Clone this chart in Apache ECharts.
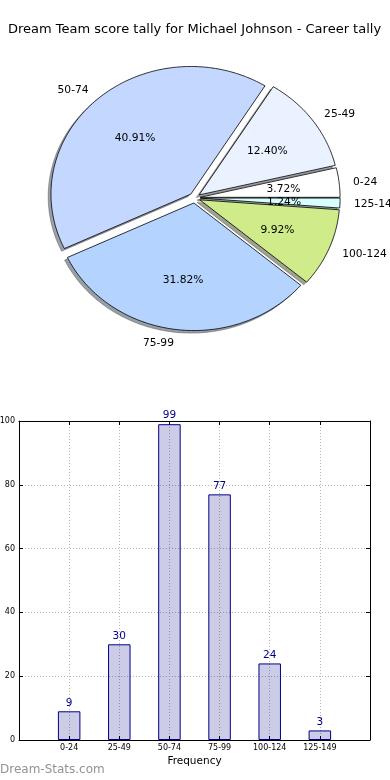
<!DOCTYPE html>
<html>
<head>
<meta charset="utf-8">
<script src="https://cdn.jsdelivr.net/npm/echarts@6/dist/echarts.min.js"></script>
<style>
html,body{margin:0;padding:0;background:#fff;}
#chart{width:390px;height:780px;}
</style>
</head>
<body>
<div id="chart"></div>
<script>
// ---- data ----
const categories = ['0-24', '25-49', '50-74', '75-99', '100-124', '125-149'];
const tallies = [9, 30, 99, 77, 24, 3];
const pieColors = ['#ffffff', '#eaf2ff', '#c4d8ff', '#b4d4ff', '#cfeb8a', '#d8ffff'];
const yTicks = [0, 20, 40, 60, 80, 100];
const titleText = 'Dream Team score tally for Michael Johnson - Career tally';

// ---- layout ----
const FONT = 'DejaVu Sans';
const PIE = { cx: 194.6, cy: 197.9, rx: 139.9, ry: 127.6, explode: 0.04, shadow: 0.02 };

function shadowColor(hex) {
  const n = parseInt(hex.slice(1), 16);
  const r = Math.round(0.3 * ((n >> 16) & 255));
  const g = Math.round(0.3 * ((n >> 8) & 255));
  const b = Math.round(0.3 * (n & 255));
  return 'rgba(' + r + ',' + g + ',' + b + ',0.5)';
}

const total = tallies.reduce((a, b) => a + b, 0);

function renderPie(params, api) {
  const i = params.dataIndex;
  const v = api.value(0);
  let start = 0;
  for (let k = 0; k < i; k++) start += tallies[k];
  const t1 = start / total * 2 * Math.PI;
  const t2 = (start + v) / total * 2 * Math.PI;
  const tm = (t1 + t2) / 2;
  const ox = PIE.cx + PIE.explode * PIE.rx * Math.cos(tm);
  const oy = PIE.cy - PIE.explode * PIE.ry * Math.sin(tm);
  const pts = [[ox, oy]];
  const n = Math.max(2, Math.ceil((t2 - t1) / (Math.PI / 180)));
  for (let j = 0; j <= n; j++) {
    const t = t1 + (t2 - t1) * j / n;
    pts.push([ox + PIE.rx * Math.cos(t), oy - PIE.ry * Math.sin(t)]);
  }
  const sdx = -PIE.shadow * PIE.rx, sdy = PIE.shadow * PIE.ry;
  const spts = pts.map(p => [p[0] + sdx, p[1] + sdy]);
  const c = Math.cos(tm), s = Math.sin(tm);
  const pct = (v / total * 100).toFixed(2) + '%';
  return {
    type: 'group',
    children: [
      { type: 'polygon', z2: 1, shape: { points: spts },
        style: { fill: shadowColor(pieColors[i]), stroke: shadowColor(pieColors[i]), lineWidth: 0.8 } },
      { type: 'polygon', z2: 10, shape: { points: pts },
        style: { fill: pieColors[i], stroke: '#000', lineWidth: 0.8 } },
      { type: 'text', z2: 100,
        style: { text: pct, x: ox + 0.6 * PIE.rx * c, y: oy - 0.6 * PIE.ry * s + 1,
          align: 'center', verticalAlign: 'middle', fill: '#000', font: '10.7px "' + FONT + '"' } },
      { type: 'text', z2: 100,
        style: { text: categories[i], x: ox + 1.1 * PIE.rx * c, y: oy - 1.1 * PIE.ry * s + 1,
          align: c > 0 ? 'left' : 'right', verticalAlign: 'middle', fill: '#000', font: '10.7px "' + FONT + '"' } }
    ]
  };
}

const chart = echarts.init(document.getElementById('chart'), null, { renderer: 'canvas' });

const gridLine = { show: true, lineStyle: { color: '#b4b4b4', type: [1, 2], width: 1 } };
const tickStyle = { show: true, inside: true, length: 4, lineStyle: { color: '#000', width: 1 } };
const axisLine = { show: true, onZero: false, lineStyle: { color: '#000', width: 1 } };

const option = {
  animation: false,
  backgroundColor: '#fff',
  textStyle: { fontFamily: FONT },
  graphic: [
    { type: 'text', style: { text: titleText, x: 194.5, y: 30, align: 'center', verticalAlign: 'middle',
      fill: '#000', font: '13px "' + FONT + '"' } },
    { type: 'text', style: { text: 'Dream-Stats.com', x: 0, y: 770, align: 'left', verticalAlign: 'middle',
      fill: '#939393', font: '12px "' + FONT + '"' } }
  ],
  grid: { left: 19, right: 20, top: 421, bottom: 40, containLabel: false, outerBoundsMode: 'none' },
  xAxis: [
    { type: 'value', min: -1, max: 6, interval: 1, position: 'bottom',
      axisLine: axisLine, axisTick: tickStyle, splitLine: gridLine,
      axisLabel: { show: true, fontSize: 8, color: '#000', margin: 4, fontFamily: FONT,
        formatter: v => categories[v] || '' },
      name: 'Frequency', nameLocation: 'middle', nameGap: 16,
      nameTextStyle: { fontSize: 10.5, color: '#000', fontFamily: FONT } },
    { type: 'value', min: -1, max: 6, interval: 1, position: 'top',
      axisLine: axisLine, axisTick: tickStyle, splitLine: { show: false }, axisLabel: { show: false } }
  ],
  yAxis: [
    { type: 'value', min: yTicks[0], max: yTicks[yTicks.length - 1], interval: 20, position: 'left',
      axisLine: axisLine, axisTick: tickStyle, splitLine: gridLine,
      axisLabel: { show: true, fontSize: 8, color: '#000', margin: 4, fontFamily: FONT } },
    { type: 'value', min: yTicks[0], max: yTicks[yTicks.length - 1], interval: 20, position: 'right',
      axisLine: axisLine, axisTick: tickStyle, splitLine: { show: false }, axisLabel: { show: false } }
  ],
  series: [
    {
      type: 'custom', coordinateSystem: 'none', silent: true,
      renderItem: renderPie,
      data: tallies.map((v, i) => ({ name: categories[i], value: v }))
    },
    {
      type: 'bar', xAxisIndex: 0, yAxisIndex: 0, barWidth: 22.5,
      data: tallies.map((v, i) => [i, v]),
      itemStyle: { color: 'rgba(0,0,128,0.2)', borderColor: '#00008b', borderWidth: 1 },
      label: { show: true, position: 'top', distance: 3, color: '#00008b', fontSize: 10.5, fontFamily: FONT,
        formatter: p => String(p.value[1]) }
    }
  ]
};
chart.setOption(option);
</script>
</body>
</html>
